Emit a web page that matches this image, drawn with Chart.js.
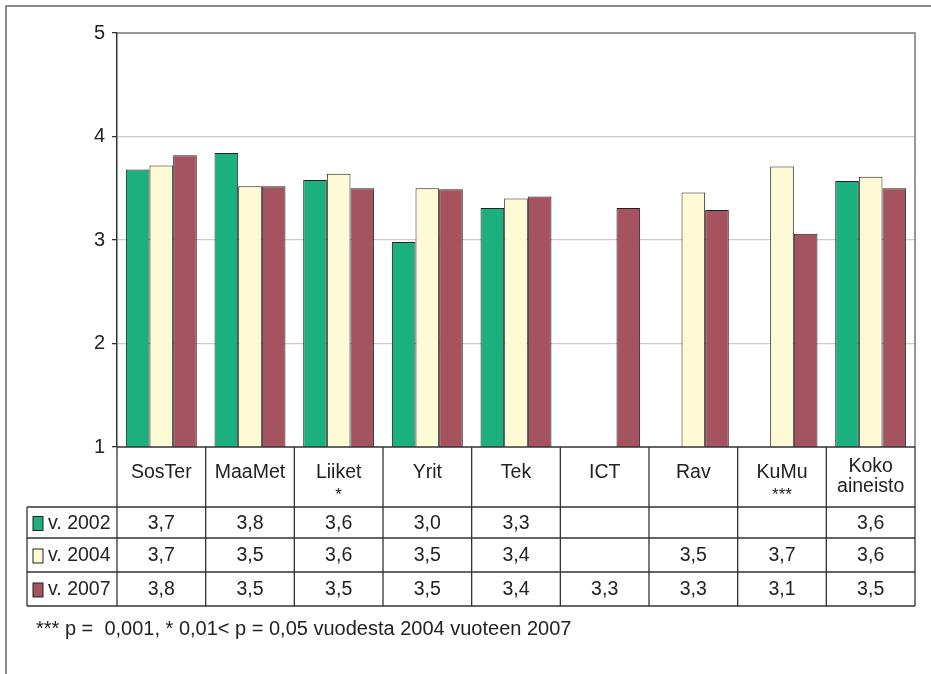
<!DOCTYPE html>
<html>
<head>
<meta charset="utf-8">
<script src="https://cdn.jsdelivr.net/npm/chart.js@4.4.1/dist/chart.umd.min.js"></script>
<style>
  html, body { margin: 0; padding: 0; background: #fff; }
  #wrap { width: 931px; height: 674px; position: relative; }
</style>
</head>
<body>
<div id="wrap"><canvas id="chart" width="931" height="674"></canvas></div>
<script>
  // Categories (header rows of the table)
  const categories = [
    ['SosTer'], ['MaaMet'], ['Liiket', '*'], ['Yrit'], ['Tek'],
    ['ICT'], ['Rav'], ['KuMu', '***'], ['Koko', 'aineisto']
  ];
  const seriesNames = ['v. 2002', 'v. 2004', 'v. 2007'];

  // Mean values per year
  const v2002 = [3.68, 3.84, 3.58, 2.98, 3.31, null, null, null, 3.57];
  const v2004 = [3.72, 3.52, 3.64, 3.50, 3.40, null, 3.46, 3.71, 3.61];
  const v2007 = [3.82, 3.52, 3.50, 3.49, 3.42, 3.31, 3.29, 3.06, 3.50];

  const yTicks = [1, 2, 3, 4, 5];
  const footnote = '*** p =  0,001, * 0,01< p = 0,05 vuodesta 2004 vuoteen 2007';

  const colors = ['#1bb07e', '#fffad6', '#a5535f'];
  const FONT = '"Liberation Sans", Arial, sans-serif';

  const fmt = (v) => (v === null ? '' : v.toFixed(1).replace('.', ','));

  // Frame + data table below the plot
  const tablePlugin = {
    id: 'tablePlugin',
    afterDraw(chart) {
      const ctx = chart.ctx;
      const x = chart.scales.x;
      const area = chart.chartArea;
      const colW = (area.right - area.left) / categories.length;
      const headerBottom = area.bottom + 60;
      const rowH = [31, 34, 34];
      const legendLeft = 27;
      const all = [v2002, v2004, v2007];

      ctx.save();

      // outer frame (top + left only)
      ctx.strokeStyle = '#666';
      ctx.lineWidth = 1.5;
      ctx.beginPath();
      ctx.moveTo(6, 674);
      ctx.lineTo(6, 6);
      ctx.lineTo(931, 6);
      ctx.stroke();

      // plot top / right border
      ctx.strokeStyle = '#777';
      ctx.lineWidth = 1.5;
      ctx.beginPath();
      ctx.moveTo(area.left, area.top);
      ctx.lineTo(area.right, area.top);
      ctx.lineTo(area.right, area.bottom);
      ctx.stroke();

      // table lines
      ctx.strokeStyle = '#333';
      ctx.lineWidth = 1.3;
      ctx.beginPath();
      ctx.moveTo(area.left, area.bottom);
      ctx.lineTo(area.right, area.bottom);
      let y = headerBottom;
      ctx.moveTo(legendLeft, y);
      ctx.lineTo(area.right, y);
      rowH.forEach((h) => {
        y += h;
        ctx.moveTo(legendLeft, y);
        ctx.lineTo(area.right, y);
      });
      const tableBottom = y;
      for (let i = 0; i <= categories.length; i++) {
        const cx = x.getPixelForValue(i) - colW / 2;
        ctx.moveTo(cx, area.bottom);
        ctx.lineTo(cx, tableBottom);
      }
      ctx.moveTo(legendLeft, headerBottom);
      ctx.lineTo(legendLeft, tableBottom);
      ctx.stroke();

      // header labels
      ctx.fillStyle = '#222';
      ctx.textAlign = 'center';
      ctx.textBaseline = 'middle';
      categories.forEach((lines, i) => {
        const cx = x.getPixelForValue(i);
        ctx.font = '19.5px ' + FONT;
        if (lines.length === 2 && lines[1].startsWith('*')) {
          ctx.fillText(lines[0], cx, area.bottom + 26);
          ctx.font = '17px ' + FONT;
          ctx.fillText(lines[1], cx, area.bottom + 48);
        } else if (lines.length === 2) {
          ctx.fillText(lines[0], cx, area.bottom + 20);
          ctx.fillText(lines[1], cx, area.bottom + 40);
        } else {
          ctx.fillText(lines[0], cx, area.bottom + 26);
        }
      });

      // rows
      y = headerBottom;
      all.forEach((vals, r) => {
        const mid = y + rowH[r] / 2 + 1;
        ctx.fillStyle = colors[r];
        ctx.fillRect(33, mid - 7, 10, 14);
        ctx.strokeStyle = '#222';
        ctx.lineWidth = 1;
        ctx.strokeRect(33, mid - 7, 10, 14);
        ctx.fillStyle = '#222';
        ctx.font = '19.5px ' + FONT;
        ctx.textAlign = 'left';
        ctx.fillText(seriesNames[r], 48, mid);
        ctx.textAlign = 'center';
        vals.forEach((v, i) => {
          ctx.fillText(fmt(v), x.getPixelForValue(i), mid);
        });
        y += rowH[r];
      });

      // footnote
      ctx.textAlign = 'left';
      ctx.font = '20px ' + FONT;
      ctx.fillText(footnote, 36, 629);

      ctx.restore();
    }
  };

  const ctx = document.getElementById('chart').getContext('2d');
  new Chart(ctx, {
    type: 'bar',
    data: {
      labels: categories.map((c) => c.join(' ')),
      datasets: [v2002, v2004, v2007].map((d, i) => ({
        label: seriesNames[i],
        data: d,
        backgroundColor: colors[i],
        borderColor: '#222',
        borderWidth: 1,
        categoryPercentage: 0.8,
        barPercentage: 1.0,
      })),
    },
    options: {
      responsive: false,
      animation: false,
      layout: { padding: { left: 0, top: 33, right: 16, bottom: 227 } },
      plugins: { legend: { display: false }, tooltip: { enabled: false } },
      scales: {
        x: { display: false },
        y: {
          min: yTicks[0],
          max: yTicks[yTicks.length - 1],
          afterFit: (s) => { s.width = 117; },
          afterBuildTicks: (s) => { s.ticks = yTicks.map((v) => ({ value: v })); },
          ticks: {
            color: '#222',
            padding: 7,
            font: { family: FONT, size: 20 },
          },
          grid: {
            color: (c) => (c.tick && (c.tick.value === 1 || c.tick.value === 5) ? 'rgba(0,0,0,0)' : '#cccccc'),
            lineWidth: 1.3,
            tickLength: 5,
            tickColor: '#333',
          },
          border: { display: true, color: '#333', width: 1.5 },
        },
      },
    },
    plugins: [tablePlugin],
  });
</script>
</body>
</html>
